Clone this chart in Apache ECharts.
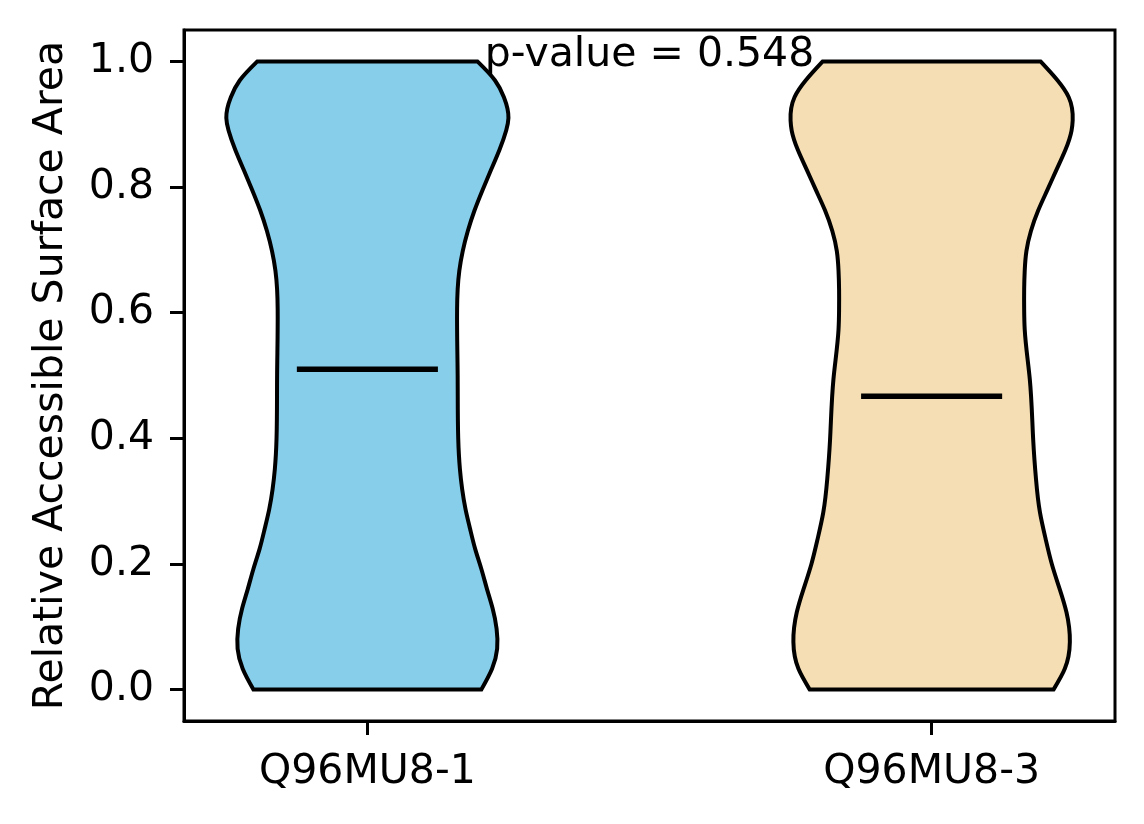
<!DOCTYPE html>
<html>
<head>
<meta charset="utf-8">
<script src="https://cdn.jsdelivr.net/npm/echarts@6/dist/echarts.min.js"></script>
<style>
html,body{margin:0;padding:0;background:#fff;}
#chart{width:1144px;height:824px;}
</style>
</head>
<body>
<div id="chart"></div>
<script>
// ---- data ----
const categories = ['Q96MU8-1', 'Q96MU8-3'];
const positions = [1, 2];
const colors = ['#87CEEB', '#F5DEB3'];
// violin 1: y levels and half-widths (x data units)
const yLevels1 = [0, 0.033, 0.065, 0.097, 0.129, 0.160, 0.192, 0.224, 0.256, 0.287, 0.319, 0.351, 0.40, 0.50, 0.605, 0.637, 0.667, 0.698, 0.730, 0.763, 0.795, 0.827, 0.859, 0.890, 0.910, 0.943, 0.97, 1.0];
const halfWidth1 = [0.202, 0.221, 0.230, 0.229, 0.222, 0.212, 0.202, 0.191, 0.182, 0.174, 0.168, 0.164, 0.161, 0.160, 0.159, 0.160, 0.163, 0.169, 0.178, 0.190, 0.204, 0.219, 0.234, 0.246, 0.250, 0.242, 0.226, 0.195];
// violin 2
const yLevels2 = [0, 0.033, 0.076, 0.123, 0.160, 0.2, 0.24, 0.282, 0.335, 0.398, 0.494, 0.573, 0.605, 0.637, 0.667, 0.698, 0.730, 0.763, 0.795, 0.827, 0.859, 0.890, 0.906, 0.943, 0.97, 1.0];
const halfWidth2 = [0.216, 0.236, 0.245, 0.239, 0.227, 0.213, 0.202, 0.192, 0.185, 0.180, 0.174, 0.165, 0.164, 0.164, 0.165, 0.168, 0.176, 0.189, 0.205, 0.221, 0.237, 0.248, 0.250, 0.243, 0.223, 0.193];
const medians = [0.51, 0.467];
const yTicks = [0, 0.2, 0.4, 0.6, 0.8, 1.0];
const pValueText = 'p-value = 0.548';
const pValuePos = [1.5, 0.99];

const yLevelSets = [yLevels1, yLevels2];
const halfWidths = [halfWidth1, halfWidth2];
const FONT = 'DejaVu Sans';

// natural cubic spline slopes (dw/dy) at the knots, used only to draw a smooth outline
function splineSlopes(t, v) {
  const n = t.length;
  const h = [];
  for (let i = 0; i < n - 1; i++) h.push(t[i + 1] - t[i]);
  const a = new Array(n).fill(0), b = new Array(n).fill(1), c = new Array(n).fill(0), r = new Array(n).fill(0);
  for (let i = 1; i < n - 1; i++) {
    a[i] = h[i - 1] / 6;
    b[i] = (h[i - 1] + h[i]) / 3;
    c[i] = h[i] / 6;
    r[i] = (v[i + 1] - v[i]) / h[i] - (v[i] - v[i - 1]) / h[i - 1];
  }
  const cp = new Array(n).fill(0), rp = new Array(n).fill(0);
  cp[0] = c[0] / b[0]; rp[0] = r[0] / b[0];
  for (let i = 1; i < n; i++) {
    const m = b[i] - a[i] * cp[i - 1];
    cp[i] = c[i] / m;
    rp[i] = (r[i] - a[i] * rp[i - 1]) / m;
  }
  const M = new Array(n).fill(0);
  M[n - 1] = rp[n - 1];
  for (let i = n - 2; i >= 0; i--) M[i] = rp[i] - cp[i] * M[i + 1];
  const s = [];
  for (let i = 0; i < n - 1; i++) s.push((v[i + 1] - v[i]) / h[i] - h[i] * (2 * M[i] + M[i + 1]) / 6);
  s.push((v[n - 1] - v[n - 2]) / h[n - 2] + h[n - 2] * (M[n - 2] + 2 * M[n - 1]) / 6);
  return s;
}

// outline of one side as cubic Bezier segments; sign = +1 right side, -1 left side
function sidePath(api, pos, ys, w, slopes, sign, forward) {
  const n = ys.length;
  const idx = [];
  for (let i = 0; i < n; i++) idx.push(forward ? i : n - 1 - i);
  const P = (x, y) => api.coord([x, y]);
  const p0 = P(pos + sign * w[idx[0]], ys[idx[0]]);
  let d = (forward ? 'M' : 'L') + p0[0] + ' ' + p0[1];
  for (let k = 0; k < n - 1; k++) {
    const i = idx[k], j = idx[k + 1];
    const hh = ys[j] - ys[i];
    const c1 = P(pos + sign * (w[i] + slopes[i] * hh / 3), ys[i] + hh / 3);
    const c2 = P(pos + sign * (w[j] - slopes[j] * hh / 3), ys[j] - hh / 3);
    const p2 = P(pos + sign * w[j], ys[j]);
    d += ' C' + c1[0] + ' ' + c1[1] + ' ' + c2[0] + ' ' + c2[1] + ' ' + p2[0] + ' ' + p2[1];
  }
  return d;
}

function renderViolin(params, api) {
  const i = params.dataIndex;
  const pos = positions[i];
  const ys = yLevelSets[i];
  const w = halfWidths[i];
  const slopes = splineSlopes(ys, w);
  let d = sidePath(api, pos, ys, w, slopes, 1, true);
  d += ' ' + sidePath(api, pos, ys, w, slopes, -1, false);
  d += ' Z';
  const m0 = api.coord([pos - 0.125, medians[i]]);
  const m1 = api.coord([pos + 0.125, medians[i]]);
  return {
    type: 'group',
    children: [
      {
        type: 'path',
        shape: { pathData: d },
        style: { fill: colors[i], stroke: '#000', lineWidth: 4, lineJoin: 'miter' }
      },
      {
        type: 'line',
        shape: { x1: m0[0], y1: m0[1], x2: m1[0], y2: m1[1] },
        style: { stroke: '#000', lineWidth: 5.5 }
      }
    ]
  };
}

function renderText(params, api) {
  const p = api.coord([api.value(0), api.value(1)]);
  return {
    type: 'text',
    x: p[0],
    y: p[1] + 8,
    style: {
      text: pValueText,
      font: '41px "' + FONT + '"',
      fill: '#000',
      align: 'center',
      verticalAlign: 'bottom'
    }
  };
}

const chart = echarts.init(document.getElementById('chart'), null, { renderer: 'canvas' });
chart.setOption({
  animation: false,
  backgroundColor: '#fff',
  grid: {
    left: 184, right: 29, top: 30, bottom: 103,
    show: true, borderColor: '#000', borderWidth: 3, backgroundColor: 'transparent'
  },
  xAxis: {
    type: 'value',
    min: 0.675,
    max: 2.325,
    splitLine: { show: false },
    axisLine: { show: true, onZero: false, lineStyle: { color: '#000', width: 3 } },
    axisTick: { show: true, customValues: positions, length: 14, lineStyle: { color: '#000', width: 3 } },
    axisLabel: {
      customValues: positions,
      formatter: function (v) {
        const k = positions.indexOf(Math.round(v));
        return k >= 0 ? categories[k] : '';
      },
      color: '#000', fontSize: 41, fontFamily: FONT, margin: 31
    }
  },
  yAxis: {
    type: 'value',
    min: -0.05,
    max: 1.05,
    name: 'Relative Accessible Surface Area',
    nameLocation: 'middle',
    nameGap: 112,
    nameTextStyle: { color: '#000', fontSize: 41, fontFamily: FONT },
    splitLine: { show: false },
    axisLine: { show: true, onZero: false, lineStyle: { color: '#000', width: 3 } },
    axisTick: { show: true, customValues: yTicks, length: 14, lineStyle: { color: '#000', width: 3 } },
    axisLabel: {
      customValues: yTicks,
      formatter: function (v) { return Number(v).toFixed(1); },
      color: '#000', fontSize: 41, fontFamily: FONT, margin: 30
    }
  },
  series: [
    {
      type: 'custom',
      renderItem: renderViolin,
      data: positions.map((p, i) => [p, medians[i]]),
      clip: false,
      silent: true
    },
    {
      type: 'custom',
      renderItem: renderText,
      data: [pValuePos],
      clip: false,
      silent: true,
      z: 5
    }
  ]
});
</script>
</body>
</html>
